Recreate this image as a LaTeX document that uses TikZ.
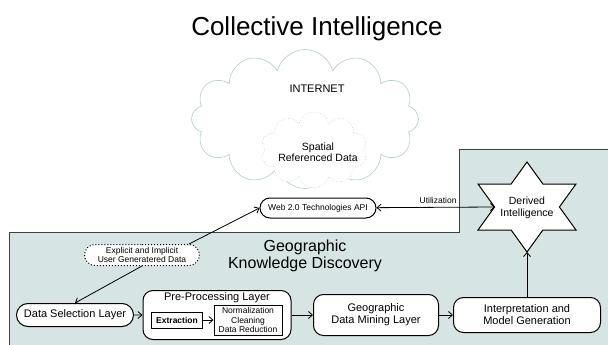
\documentclass[tikz,border=0pt]{standalone}
\usepackage{fontspec}
\setmainfont{Liberation Sans}
\usetikzlibrary{shapes.symbols,shapes.misc,arrows.meta}
\definecolor{gkdfill}{RGB}{214,228,228}
\definecolor{cloudline}{RGB}{180,204,204}

\begin{document}
\begin{tikzpicture}[x=1pt,y=-1pt,>={Straight Barb[length=4pt,width=7pt]},line width=0.8pt,
  main node/.style={draw,fill=white,line width=1pt,rounded corners=10pt,align=center,inner sep=0pt,font=\fontsize{11}{12}\selectfont},
  pill node/.style={draw,fill=white,line width=1pt,rounded rectangle,align=center,inner sep=0pt},
  sub node/.style={draw,fill=white,line width=1pt,align=center,inner sep=0pt},
  small text/.style={font=\fontsize{8.5}{9.3}\selectfont},
  cloud node/.style={cloud,draw=cloudline,fill=white,line width=0.6pt}]
    \clip (0,0) rectangle (608,345);

    % discovery area
    \draw[fill=gkdfill,draw=black!75,line width=0.9pt] (9,232) -- (459,232) -- (459,149) -- (620,149) -- (620,360) -- (9,360) -- cycle;

    \node (0) at (317,29) {\fontsize{26}{30}\selectfont Collective Intelligence};

    % internet
    \node[cloud node,cloud puffs=12,minimum width=227pt,minimum height=139pt] (c1) at (305,119) {};
    \node[cloud node,dotted,cloud puffs=10,minimum width=106pt,minimum height=76pt] (c2) at (314,150) {};
    \node[font=\fontsize{11}{12}\selectfont] (i1) at (317,89) {INTERNET};
    \node[align=center,font=\fontsize{10.5}{11.5}\selectfont] (i2) at (318,152) {Spatial\\Referenced Data};

    % derived intelligence
    \begin{scope}[shift={(527,207)}]
        \draw[fill=white,line width=1pt] (0,-45) -- (15.9,-23) -- (49,-23) -- (32.4,0) -- (49,23) -- (15.9,23)
            -- (0,45) -- (-15.9,23) -- (-49,23) -- (-32.4,0) -- (-49,-23) -- (-15.9,-23) -- cycle;
    \end{scope}
    \node[align=center,font=\fontsize{10.5}{12}\selectfont] (5) at (527,208) {Derived\\Intelligence};
    \coordinate (5w) at (495,207);
    \coordinate (5s) at (527,252);

    \node[pill node,small text,minimum width=116pt,minimum height=20pt] (api) at (318,208) {Web 2.0 Technologies API};
    \node[pill node,small text,dotted,minimum width=115pt,minimum height=21pt] (ugd) at (142,255) {Explicit and Implicit\\User Generatered Data};
    \node[align=center,font=\fontsize{16}{17.5}\selectfont] (gkd) at (305,256) {Geographic\\Knowledge Discovery};

    % layers
    \node[pill node,font=\fontsize{11}{12}\selectfont,minimum width=117pt,minimum height=23pt] (1) at (75,315) {Data Selection Layer};
    \node[main node,minimum width=148pt,minimum height=49pt,label={[anchor=north,font=\fontsize{11}{12}\selectfont,inner sep=2pt]north:Pre-Processing Layer}] (2) at (217,315) {};
    \node[sub node,font=\bfseries\fontsize{8.5}{9.5}\selectfont,minimum width=51pt,minimum height=16pt] (2a) at (177,320) {Extraction};
    \node[sub node,small text,minimum width=68pt,minimum height=30pt] (2b) at (248,320) {Normalization\\Cleaning\\Data Reduction};
    \node[main node,minimum width=125pt,minimum height=41pt] (3) at (376,315) {Geographic\\Data Mining Layer};
    \node[main node,minimum width=147pt,minimum height=35pt] (4) at (527,315) {Interpretation and\\Model Generation};

    \path[->]
        (1) edge (2)
        (2a) edge (2b)
        (2) edge (3)
        (3) edge (4)
        (4) edge (5s)
        (ugd.south) edge (1.north)
        (ugd.north east) edge (api.west);
    \path[<->] (api) edge node[above,font=\fontsize{8.5}{9.5}\selectfont,pos=0.52] {Utilization} (5w);

\end{tikzpicture}
\end{document}
